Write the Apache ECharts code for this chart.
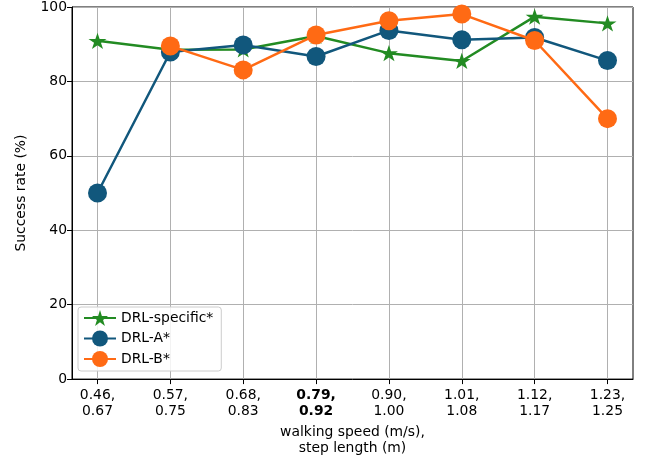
<!DOCTYPE html>
<html>
<head>
<meta charset="utf-8">
<script src="https://cdn.jsdelivr.net/npm/echarts@6/dist/echarts.min.js"></script>
<style>html,body{margin:0;padding:0;background:#fff}#c{width:645px;height:461px}</style>
</head>
<body>
<div id="c"></div>
<script>
const speeds = ['0.46', '0.57', '0.68', '0.79', '0.90', '1.01', '1.12', '1.23'];
const steps = ['0.67', '0.75', '0.83', '0.92', '1.00', '1.08', '1.17', '1.25'];
const boldIndex = 3;
const yTicks = [0, 20, 40, 60, 80, 100];
const drlSpecific = [90.9, 88.5, 88.6, 92.2, 87.6, 85.5, 97.4, 95.6];
const drlA = [50.0, 87.9, 89.8, 86.7, 93.7, 91.2, 91.8, 85.6];
const drlB = [null, 89.5, 83.1, 92.5, 96.3, 98.1, 91.0, 70.0];

const STAR = 'path://M100,0 L122.45,69.1 L195.11,69.1 L136.33,111.8 L158.78,180.9 L100,138.2 L41.22,180.9 L63.67,111.8 L4.89,69.1 L77.55,69.1 Z';
const FONT = 'DejaVu Sans';
const FS = 13.9;
const idx = speeds.map((_, i) => i);
const toData = arr => arr.map((v, i) => [i, v]).filter(d => d[1] !== null);

const chart = echarts.init(document.getElementById('c'), null, {renderer: 'canvas'});
chart.setOption({
  animation: false,
  backgroundColor: '#fff',
  textStyle: {fontFamily: FONT},
  grid: {left: 72, right: 12, top: 7, bottom: 81, show: true, borderColor: '#000', borderWidth: 1, backgroundColor: 'transparent'},
  xAxis: {
    type: 'value', min: -0.35, max: 7.35,
    name: 'walking speed (m/s),\nstep length (m)',
    nameLocation: 'middle', nameGap: 44,
    nameTextStyle: {fontFamily: FONT, fontSize: FS, color: '#000', lineHeight: 16},
    axisLine: {show: true, onZero: false, lineStyle: {color: '#000', width: 1}},
    axisTick: {show: true, customValues: idx, length: 5, lineStyle: {color: '#000'}},
    axisLabel: {
      customValues: idx, margin: 8, color: '#000', fontFamily: FONT, fontSize: FS, lineHeight: 16,
      formatter: v => {
        const i = Math.round(v);
        if (i === boldIndex) return '{b|' + speeds[i] + ',}\n{b|' + steps[i] + '}';
        return speeds[i] + ',\n' + steps[i];
      },
      rich: {b: {fontWeight: 'bold', fontFamily: FONT, fontSize: FS, lineHeight: 16, color: '#000'}}
    },
    splitLine: {show: true, lineStyle: {color: '#b0b0b0', width: 1}}
  },
  yAxis: {
    type: 'value', min: 0, max: 100, interval: 20,
    name: 'Success rate (%)', nameLocation: 'middle', nameGap: 44,
    nameTextStyle: {fontFamily: FONT, fontSize: FS, color: '#000'},
    axisLine: {show: true, onZero: false, lineStyle: {color: '#000', width: 1}},
    axisTick: {show: true, length: 5, lineStyle: {color: '#000'}},
    axisLabel: {margin: 5, color: '#000', fontFamily: FONT, fontSize: FS,
      formatter: v => yTicks.includes(v) ? String(v) : ''},
    splitLine: {show: true, lineStyle: {color: '#b0b0b0', width: 1}}
  },
  legend: {
    orient: 'vertical', left: 78, top: 307,
    itemWidth: 32, itemHeight: 20, itemGap: 4.5,
    padding: [3, 8, 4, 5],
    backgroundColor: 'rgba(255,255,255,0.85)', borderColor: '#cccccc', borderWidth: 1, borderRadius: 3,
    textStyle: {fontFamily: FONT, fontSize: FS, color: '#000'},
    data: ['DRL-specific*', 'DRL-A*', 'DRL-B*']
  },
  series: [
    {name: 'DRL-specific*', type: 'line', data: toData(drlSpecific), color: '#228b22',
     symbol: STAR, symbolSize: [18, 17], symbolKeepAspect: true,
     lineStyle: {width: 2.5, color: '#228b22'}, itemStyle: {color: '#228b22'}, z: 2},
    {name: 'DRL-A*', type: 'line', data: toData(drlA), color: '#11577c',
     symbol: 'circle', symbolSize: 19,
     lineStyle: {width: 2.5, color: '#11577c'}, itemStyle: {color: '#11577c'}, z: 3},
    {name: 'DRL-B*', type: 'line', data: toData(drlB), color: '#ff6a14',
     symbol: 'circle', symbolSize: 19,
     lineStyle: {width: 2.5, color: '#ff6a14'}, itemStyle: {color: '#ff6a14'}, z: 4}
  ]
});
</script>
</body>
</html>
